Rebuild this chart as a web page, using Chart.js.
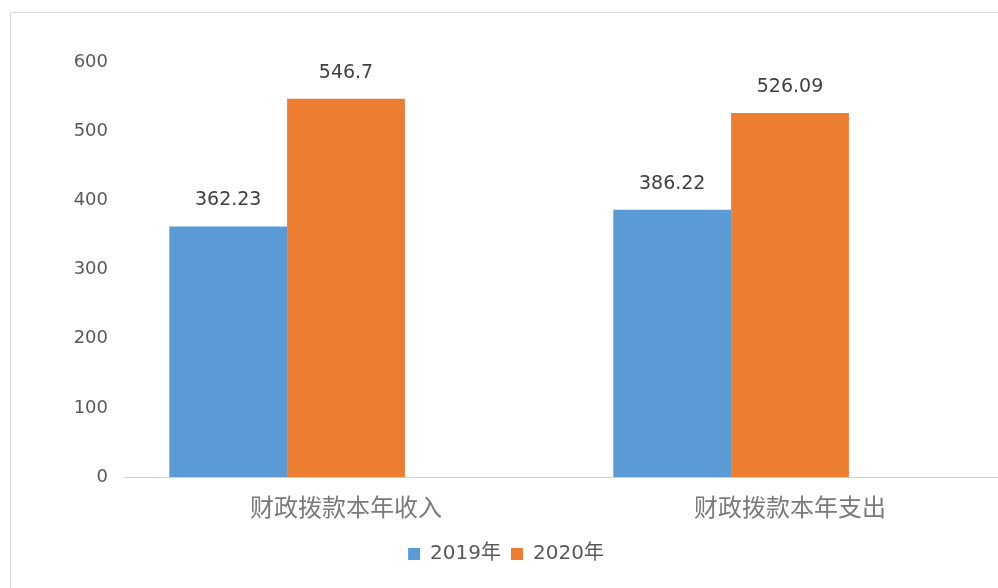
<!DOCTYPE html>
<html>
<head>
<meta charset="utf-8">
<script src="https://cdn.jsdelivr.net/npm/chart.js@4"></script>
<style>
    html, body { margin: 0; padding: 0; background: #fff; overflow: hidden; }
    #frame { position: absolute; left: 10px; top: 12px; width: 1100px; height: 700px;
             border-left: 1px solid #dcdcdc; border-top: 1px solid #dcdcdc; }
    #wrap { position: absolute; left: 0; top: 0; width: 1012px; height: 588px; }
</style>
</head>
<body>
<div id="frame"></div>
<div id="wrap"><canvas id="chart"></canvas></div>
<script>
// data
const categories = ['财政拨款本年收入', '财政拨款本年支出'];
const values2019 = [362.23, 386.22];
const values2020 = [546.7, 526.09];
const yTicks = [0, 100, 200, 300, 400, 500, 600];

// Draw the value above each bar
const valueLabels = {
    id: 'valueLabels',
    afterDatasetsDraw(chart) {
        const ctx = chart.ctx;
        ctx.save();
        ctx.font = '19px "DejaVu Sans", sans-serif';
        ctx.fillStyle = '#404040';
        ctx.textAlign = 'center';
        ctx.textBaseline = 'alphabetic';
        [0, 1].forEach(i => {
            const meta = chart.getDatasetMeta(i);
            meta.data.forEach((bar, j) => {
                const v = chart.data.datasets[i].data[j];
                ctx.fillText(String(v), bar.x, bar.y - 21);
            });
        });
        ctx.restore();
    }
};

const el = document.getElementById('chart');
new Chart(el.getContext('2d'), {
    type: 'bar',
    data: {
        labels: categories,
        datasets: [
            { label: '2019年', data: values2019, backgroundColor: '#5B9BD5', borderWidth: 0 },
            { label: '2020年', data: values2020, backgroundColor: '#ED7D31', borderWidth: 0 },
            // empty slot so the pair sits left of the category centre
            { label: 'spacer', data: [null, null], backgroundColor: 'rgba(0,0,0,0)' }
        ]
    },
    options: {
        responsive: true,
        maintainAspectRatio: false,
        animation: false,
        layout: { padding: { left: 0, right: 0, top: 62, bottom: 14 } },
        datasets: { bar: { barPercentage: 1, categoryPercentage: 0.796 } },
        scales: {
            x: {
                grid: { display: false, drawTicks: false },
                border: { display: true, color: '#d0d0d0', width: 1 },
                ticks: {
                    color: '#7a7a7a',
                    padding: 15,
                    font: { family: '"Noto Sans CJK SC", sans-serif', size: 24 }
                },
                afterFit: axis => { axis.height = 57; }
            },
            y: {
                min: 0,
                max: 600,
                afterBuildTicks: axis => { axis.ticks = yTicks.map(v => ({ value: v })); },
                afterFit: axis => { axis.width = 124; },
                grid: { display: false, drawTicks: false },
                border: { display: false },
                ticks: {
                    color: '#595959',
                    padding: 16,
                    font: { family: '"DejaVu Sans", sans-serif', size: 18 }
                }
            }
        },
        plugins: {
            legend: {
                position: 'bottom',
                labels: {
                    boxWidth: 12,
                    boxHeight: 12,
                    color: '#595959',
                    padding: 10,
                    font: { family: '"DejaVu Sans", "Noto Sans CJK SC", sans-serif', size: 20 },
                    filter: item => item.text !== 'spacer'
                }
            },
            tooltip: { enabled: false }
        }
    },
    plugins: [valueLabels]
});
</script>
</body>
</html>
